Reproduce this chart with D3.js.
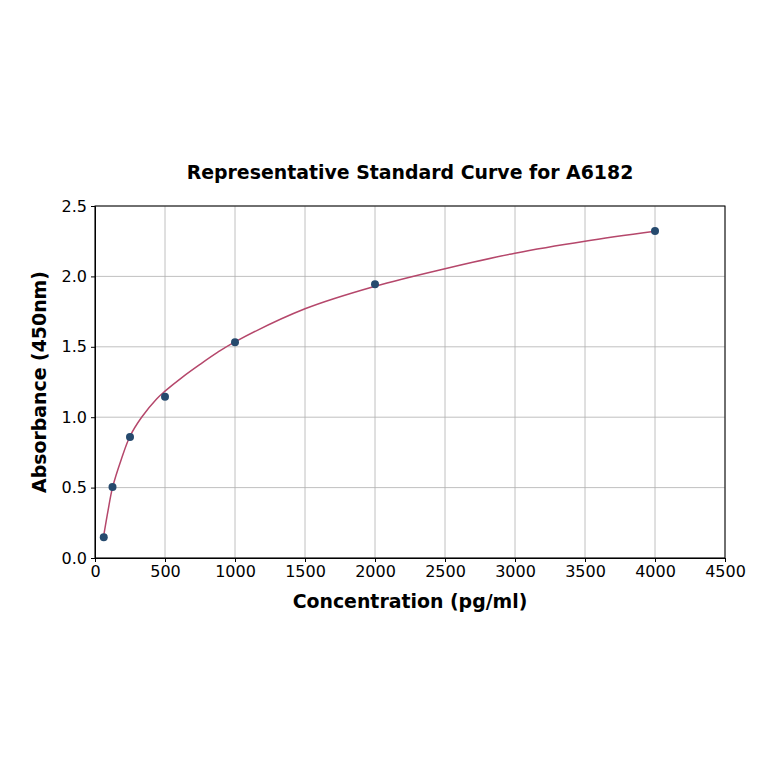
<!DOCTYPE html>
<html>
<head>
<meta charset="utf-8">
<script src="https://cdn.jsdelivr.net/npm/d3@7/dist/d3.min.js"></script>
<style>
  body { margin: 0; background: #fff; }
  svg text { font-family: "DejaVu Sans", sans-serif; }
  .grid line { stroke: #b0b0b0; stroke-width: 0.8px; }
  .axis text { font-size: 16px; fill: #000; font-family: "DejaVu Sans", sans-serif; }
  .axis line, .axis .domain { stroke: #000; }
  .title { font-size: 18.9px; font-weight: bold; text-anchor: middle; }
  .label { font-size: 18.9px; font-weight: bold; text-anchor: middle; }
  .fit { fill: none; stroke: #b5476b; stroke-width: 1.5px; }
  .dot { fill: #264a6e; }
</style>
</head>
<body>
<svg id="chart" width="764" height="764"></svg>
<script>
// standards measured
const concentrations = [62.5, 125, 250, 500, 1000, 2000, 4000];
const absorbances = [0.147, 0.504, 0.859, 1.146, 1.532, 1.945, 2.322];

// fitted curve
const fitConc = [62.5, 93.75, 125, 187.5, 250, 333, 440, 500, 625, 750, 875, 1000, 1500, 2000, 2500, 3000, 3500, 4000];
const fitAbs = [0.16, 0.34, 0.50, 0.70, 0.865, 1.0, 1.13, 1.185, 1.285, 1.375, 1.46, 1.535, 1.77, 1.93, 2.055, 2.165, 2.25, 2.32];

const xTicks = [0, 500, 1000, 1500, 2000, 2500, 3000, 3500, 4000, 4500];
const yTicks = [0.0, 0.5, 1.0, 1.5, 2.0, 2.5];

const margin = {top: 206, right: 39, bottom: 206, left: 95};
const width = 764 - margin.left - margin.right;
const height = 764 - margin.top - margin.bottom;

const svg = d3.select('#chart');
const chart = svg.append('g').attr('transform', 'translate(' + margin.left + ',' + margin.top + ')');

const x = d3.scaleLinear().domain([0, 4500]).range([0, width]);
const y = d3.scaleLinear().domain([0, 2.5]).range([height, 0]);

// grid
chart.append('g').attr('class', 'grid')
    .selectAll('line').data(xTicks).enter().append('line')
    .attr('x1', d => x(d)).attr('x2', d => x(d))
    .attr('y1', 0).attr('y2', height);
chart.append('g').attr('class', 'grid')
    .selectAll('line').data(yTicks).enter().append('line')
    .attr('x1', 0).attr('x2', width)
    .attr('y1', d => y(d)).attr('y2', d => y(d));

// axes
chart.append('g').attr('class', 'x axis')
    .attr('transform', 'translate(0,' + height + ')')
    .call(d3.axisBottom(x).tickValues(xTicks).tickSize(4).tickPadding(4).tickFormat(d3.format('d')));
chart.append('g').attr('class', 'y axis')
    .call(d3.axisLeft(y).tickValues(yTicks).tickSize(4).tickPadding(4).tickFormat(d3.format('.1f')));

// frame
chart.append('rect')
    .attr('width', width).attr('height', height)
    .attr('fill', 'none').attr('stroke', '#000').attr('stroke-width', 1);

// fit line
const line = d3.line()
    .x((d, i) => x(fitConc[i]))
    .y(d => y(d))
    .curve(d3.curveCatmullRom.alpha(0.5));
chart.append('path').attr('class', 'fit').attr('d', line(fitAbs));

// points
chart.selectAll('circle.dot').data(concentrations).enter().append('circle')
    .attr('class', 'dot')
    .attr('r', 4)
    .attr('cx', d => x(d))
    .attr('cy', (d, i) => y(absorbances[i]));

// titles
svg.append('text').attr('class', 'title')
    .attr('x', margin.left + width / 2).attr('y', 179)
    .text('Representative Standard Curve for A6182');
svg.append('text').attr('class', 'label')
    .attr('x', margin.left + width / 2).attr('y', 608)
    .text('Concentration (pg/ml)');
svg.append('text').attr('class', 'label')
    .attr('transform', 'translate(46,' + (margin.top + height / 2) + ') rotate(-90)')
    .text('Absorbance (450nm)');
</script>
</body>
</html>
